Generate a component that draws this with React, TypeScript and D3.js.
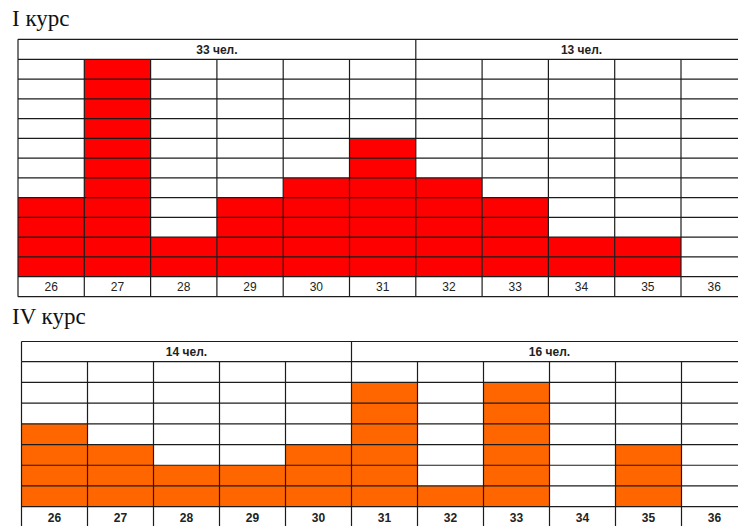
import React from "react";
import * as d3 from "d3";

const ages = ["26", "27", "28", "29", "30", "31", "32", "33", "34", "35", "36"];
const course1Counts = [4, 11, 2, 4, 5, 7, 5, 4, 2, 2, 0];
const course4Counts = [4, 3, 2, 2, 3, 6, 1, 6, 0, 3, 0];
const course1GroupLabels = ["33 чел.", "13 чел."];
const course1GroupStarts = ["26", "32"];
const course4GroupLabels = ["14 чел.", "16 чел."];
const course4GroupStarts = ["26", "31"];
const titles = ["I курс", "IV курс"];

type PanelProps = {
  title: string;
  titleY: number;
  counts: number[];
  groupLabels: string[];
  groupStarts: string[];
  left: number;
  colW: number;
  top: number;
  headerH: number;
  rows: number;
  rowH: number;
  labelH: number;
  fill: string;
  boldLabels: boolean;
};

function Panel(p: PanelProps) {
  const x = d3
    .scaleBand<string>()
    .domain(ages)
    .range([p.left, p.left + ages.length * p.colW])
    .paddingInner(0)
    .paddingOuter(0);
  const gridTop = p.top + p.headerH;
  const gridBottom = gridTop + p.rows * p.rowH;
  const labelBottom = gridBottom + p.labelH;
  const y = d3.scaleLinear().domain([0, p.rows]).range([gridBottom, gridTop]);
  const right = x.range()[1];
  const line = "#1c1c1c";
  const sw = 1.2;
  const rowTicks = d3.range(0, p.rows + 1);
  const groupX = p.groupStarts.map((g) => x(g) as number);
  return (
    <g>
      <text
        x={12}
        y={p.titleY}
        fontFamily="'Liberation Serif', 'DejaVu Serif', serif"
        fontSize={23}
        fill="#111"
      >
        {p.title}
      </text>
      <rect x={p.left} y={p.top} width={right - p.left} height={labelBottom - p.top} fill="#fff" />
      {p.counts.map((v, i) =>
        v > 0 ? (
          <rect
            key={i}
            x={x(ages[i]) as number}
            y={y(v)}
            width={x.bandwidth()}
            height={y(0) - y(v)}
            fill={p.fill}
          />
        ) : null
      )}
      <line x1={p.left} x2={right} y1={p.top} y2={p.top} stroke={line} strokeWidth={sw} />
      {rowTicks.map((r) => (
        <line key={r} x1={p.left} x2={right} y1={y(r)} y2={y(r)} stroke={line} strokeWidth={sw} />
      ))}
      <line x1={p.left} x2={right} y1={labelBottom} y2={labelBottom} stroke={line} strokeWidth={sw} />
      {ages.map((a) => (
        <line
          key={a}
          x1={x(a) as number}
          x2={x(a) as number}
          y1={gridTop}
          y2={labelBottom}
          stroke={line}
          strokeWidth={sw}
        />
      ))}
      <line x1={right} x2={right} y1={p.top} y2={labelBottom} stroke={line} strokeWidth={sw} />
      {groupX.map((gx, i) => (
        <line key={i} x1={gx} x2={gx} y1={p.top} y2={gridTop} stroke={line} strokeWidth={sw} />
      ))}
      {p.groupLabels.map((lab, i) => {
        const x0 = groupX[i];
        const x1 = i + 1 < groupX.length ? groupX[i + 1] : right;
        return (
          <text
            key={lab}
            x={(x0 + x1) / 2}
            y={p.top + p.headerH / 2 + 4.5}
            textAnchor="middle"
            fontFamily="'Liberation Sans', Arial, sans-serif"
            fontWeight="bold"
            fontSize={12}
            fill="#222"
          >
            {lab}
          </text>
        );
      })}
      {ages.map((a) => (
        <text
          key={a}
          x={(x(a) as number) + x.bandwidth() / 2}
          y={gridBottom + p.labelH / 2 + 4.5}
          textAnchor="middle"
          fontFamily="'Liberation Sans', Arial, sans-serif"
          fontWeight={p.boldLabels ? "bold" : "normal"}
          fontSize={12}
          fill="#222"
        >
          {a}
        </text>
      ))}
    </g>
  );
}

export default function App() {
  return (
    <svg
      width={738}
      height={526}
      style={{ position: "absolute", left: 0, top: 0, background: "#fff" }}
    >
      <rect x={0} y={0} width={738} height={526} fill="#fff" />
      <Panel
        title={titles[0]}
        titleY={26}
        counts={course1Counts}
        groupLabels={course1GroupLabels}
        groupStarts={course1GroupStarts}
        left={18}
        colW={66.3}
        top={39.3}
        headerH={20}
        rows={11}
        rowH={19.76}
        labelH={20}
        fill="#ff0000"
        boldLabels={false}
      />
      <Panel
        title={titles[1]}
        titleY={324}
        counts={course4Counts}
        groupLabels={course4GroupLabels}
        groupStarts={course4GroupStarts}
        left={21.5}
        colW={66}
        top={341.5}
        headerH={20.2}
        rows={7}
        rowH={20.71}
        labelH={22}
        fill="#ff6600"
        boldLabels={true}
      />
    </svg>
  );
}
